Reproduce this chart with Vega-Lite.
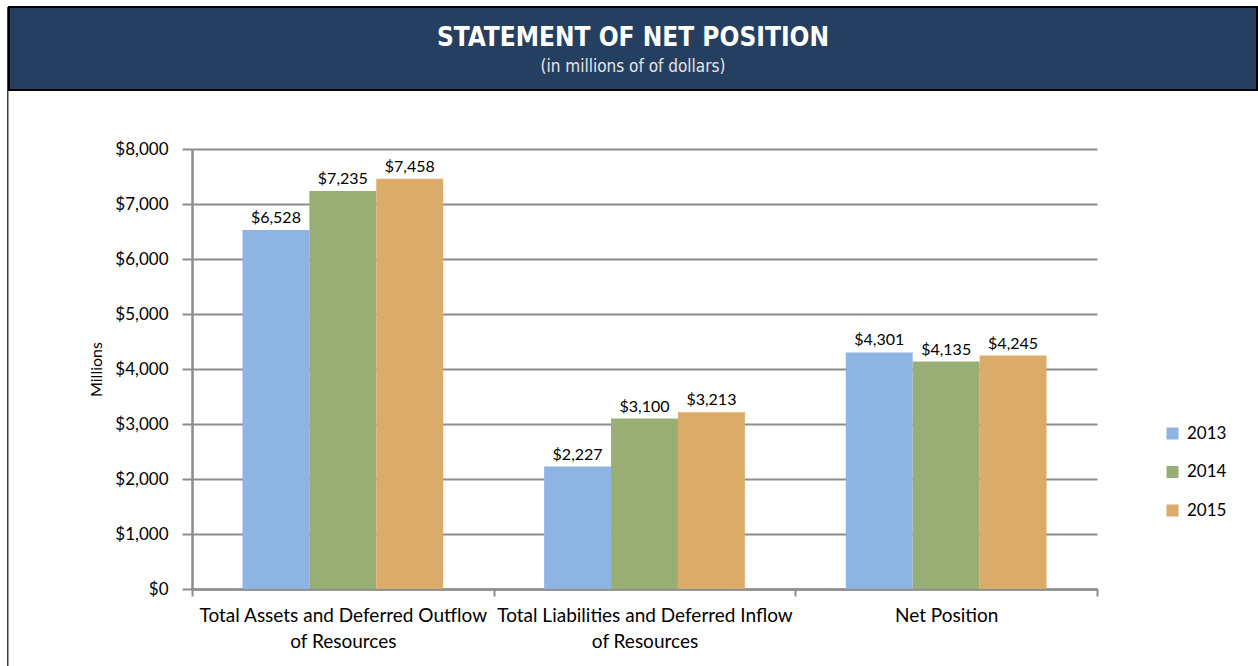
{
  "$schema": "https://vega.github.io/schema/vega-lite/v6.json",
  "padding": {"left": 7, "top": 6, "right": 0, "bottom": 0},
  "background": "white",
  "spacing": -2,
  "config": {"font": "Lato", "view": {"stroke": null}},
  "hconcat": [
    {
      "width": 1.5,
      "height": 660,
      "data": {"values": [{"f": 1}]},
      "mark": {"type": "rect", "color": "#404040"},
      "encoding": {}
    },
    {
      "spacing": 49,
      "vconcat": [
        {
          "width": 1248,
          "height": 83,
          "view": {"fill": "#253F61", "stroke": "#000000", "strokeWidth": 2},
          "data": {"values": [
            {"t": "STATEMENT OF NET POSITION", "k": "title"},
            {"t": "(in millions of of dollars)", "k": "sub"}
          ]},
          "layer": [
            {
              "transform": [{"filter": "datum.k == 'title'"}],
              "mark": {"type": "text", "font": "Liberation Sans Narrow, DejaVu Sans Condensed, sans-serif", "fontWeight": "bold", "fontSize": 26, "color": "#ffffff", "baseline": "middle", "dy": -11},
              "encoding": {"text": {"field": "t"}}
            },
            {
              "transform": [{"filter": "datum.k == 'sub'"}],
              "mark": {"type": "text", "font": "Liberation Sans Narrow, DejaVu Sans Condensed, sans-serif", "fontSize": 17, "color": "#e6e6e6", "baseline": "middle", "dy": 18},
              "encoding": {"text": {"field": "t"}}
            }
          ]
        },
        {
          "spacing": 78,
          "hconcat": [
            {
              "width": 1,
              "height": 1,
              "data": {"values": [{"f": 1}]},
              "mark": {"type": "rect", "opacity": 0},
              "encoding": {}
            },
            {
              "width": 905,
              "height": 440,
              "data": {"values": [
                {"category": "Total Assets and Deferred Outflow of Resources", "year": "2013", "value": 6528},
                {"category": "Total Assets and Deferred Outflow of Resources", "year": "2014", "value": 7235},
                {"category": "Total Assets and Deferred Outflow of Resources", "year": "2015", "value": 7458},
                {"category": "Total Liabilities and Deferred Inflow of Resources", "year": "2013", "value": 2227},
                {"category": "Total Liabilities and Deferred Inflow of Resources", "year": "2014", "value": 3100},
                {"category": "Total Liabilities and Deferred Inflow of Resources", "year": "2015", "value": 3213},
                {"category": "Net Position", "year": "2013", "value": 4301},
                {"category": "Net Position", "year": "2014", "value": 4135},
                {"category": "Net Position", "year": "2015", "value": 4245}
              ]},
              "encoding": {
                "x": {
                  "field": "category", "type": "nominal",
                  "sort": ["Total Assets and Deferred Outflow of Resources", "Total Liabilities and Deferred Inflow of Resources", "Net Position"],
                  "scale": {"paddingInner": 0, "paddingOuter": 0},
                  "axis": {
                    "title": null, "labelAngle": 0, "tickBand": "extent",
                    "domainColor": "#8c8c8c", "domainWidth": 2.5,
                    "tickColor": "#8c8c8c", "tickWidth": 2, "tickSize": 7,
                    "labelFontSize": 19, "labelColor": "#000000", "labelPadding": 10,
                    "labelLineHeight": 26, "labelLimit": 400,
                    "labelExpr": "indexof(datum.label, ' of Resources') > 0 ? [replace(datum.label, ' of Resources', ''), 'of Resources'] : datum.label"
                  }
                },
                "xOffset": {
                  "field": "year", "type": "nominal",
                  "scale": {"paddingOuter": 0.754, "paddingInner": 0}
                },
                "y": {
                  "field": "value", "type": "quantitative",
                  "scale": {"domain": [0, 8000], "nice": false},
                  "axis": {
                    "title": "Millions",
                    "values": [0, 1000, 2000, 3000, 4000, 5000, 6000, 7000, 8000],
                    "format": "$,.0f",
                    "grid": true, "gridColor": "#8c8c8c", "gridWidth": 2,
                    "domainColor": "#8c8c8c", "domainWidth": 2.5,
                    "tickColor": "#8c8c8c", "tickWidth": 2, "tickSize": 10,
                    "labelPadding": 14, "labelFontSize": 17, "labelColor": "#000000",
                    "titleFontSize": 16, "titleFontWeight": "normal", "titleColor": "#000000",
                    "titlePadding": 10
                  }
                }
              },
              "layer": [
                {
                  "mark": {"type": "bar"},
                  "encoding": {
                    "color": {
                      "field": "year", "type": "nominal",
                      "scale": {"domain": ["2013", "2014", "2015"], "range": ["#8EB4E3", "#98AE74", "#DAAB69"]},
                      "legend": {
                        "orient": "none", "legendX": 1157, "legendY": 418,
                        "title": null, "symbolType": "square", "symbolSize": 144,
                        "symbolStrokeWidth": 0, "labelFontSize": 17, "labelColor": "#000000",
                        "rowPadding": 20.5, "labelOffset": 6
                      }
                    }
                  }
                },
                {
                  "mark": {"type": "text", "baseline": "bottom", "dy": -4, "fontSize": 16, "color": "#000000"},
                  "encoding": {"text": {"field": "value", "type": "quantitative", "format": "$,.0f"}}
                }
              ]
            }
          ]
        }
      ]
    }
  ]
}
